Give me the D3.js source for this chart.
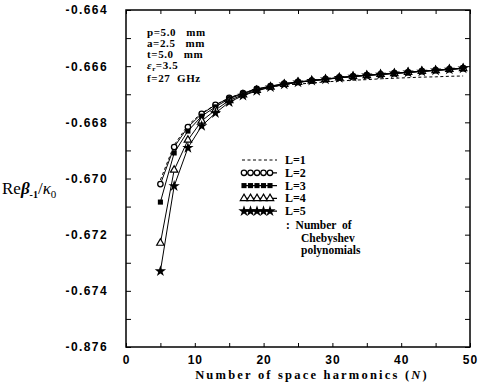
<!DOCTYPE html>
<html>
<head>
<meta charset="utf-8">
<script src="https://cdn.jsdelivr.net/npm/d3@7"></script>
<style>
  body { margin: 0; background: #fff; }
  svg { display: block; }
  text { fill: #000; }
</style>
</head>
<body>
<div id="chart"></div>
<script>
const width = 490;
const height = 388;
const margin = { top: 10, right: 20, bottom: 41, left: 126 };

// number of space harmonics
const harmonics = [5, 7, 9, 11, 13, 15, 17, 19, 21, 23, 25, 27, 29, 31, 33, 35, 37, 39, 41, 43, 45, 47, 49];

// Re beta_-1 / k0 for each L (number of Chebyshev polynomials)
const valuesL1 = [-0.67005, -0.66881, -0.66810, -0.66767, -0.66738, -0.66713, -0.66696, -0.66681, -0.66674, -0.66667, -0.66664, -0.66660,
  -0.66656, -0.66653, -0.66650, -0.66648, -0.66645, -0.66643, -0.66641, -0.66639, -0.66638, -0.66636, -0.66635];
const valuesL2 = [-0.67020, -0.66888, -0.66817, -0.66770, -0.66738, -0.66713, -0.66696, -0.66681, -0.66671, -0.66662, -0.66656, -0.66651,
  -0.66646, -0.66640, -0.66636, -0.66632, -0.66629, -0.66625, -0.66622, -0.66618, -0.66614, -0.66611, -0.66607];
const valuesL3 = [-0.67084, -0.66909, -0.66831, -0.66778, -0.66745, -0.66716, -0.66698, -0.66683, -0.66672, -0.66663, -0.66657, -0.66651,
  -0.66646, -0.66641, -0.66636, -0.66632, -0.66629, -0.66625, -0.66622, -0.66618, -0.66615, -0.66611, -0.66607];
const valuesL4 = [-0.67230, -0.66970, -0.66863, -0.66795, -0.66756, -0.66722, -0.66702, -0.66686, -0.66674, -0.66664, -0.66657, -0.66652,
  -0.66647, -0.66641, -0.66637, -0.66633, -0.66629, -0.66626, -0.66622, -0.66618, -0.66615, -0.66611, -0.66608];
const valuesL5 = [-0.67330, -0.67027, -0.66891, -0.66813, -0.66767, -0.66728, -0.66705, -0.66688, -0.66675, -0.66665, -0.66658, -0.66652,
  -0.66647, -0.66642, -0.66637, -0.66633, -0.66630, -0.66626, -0.66622, -0.66619, -0.66615, -0.66612, -0.66608];

const seriesNames = ["L=1", "L=2", "L=3", "L=4", "L=5"];

// axis ticks
const xTicks = [0, 10, 20, 30, 40, 50];
const xMinorTicks = [0, 5, 10, 15, 20, 25, 30, 35, 40, 45, 50];
const yTicks = [-0.664, -0.666, -0.668, -0.670, -0.672, -0.674, -0.676];
const yTickLabels = ["-0.664", "-0.666", "-0.668", "-0.670", "-0.672", "-0.674", "-0.876"];
const yMinorTicks = [-0.664, -0.665, -0.666, -0.667, -0.668, -0.669, -0.670, -0.671, -0.672, -0.673, -0.674, -0.675, -0.676];

const paramLines = ["p=5.0   mm", "a=2.5   mm", "t=5.0   mm", "εr=3.5", "f=27  GHz"];

const svg = d3.select("#chart")
  .append("svg")
  .attr("width", width)
  .attr("height", height);

const x = d3.scaleLinear()
  .domain([0, 50])
  .range([margin.left, width - margin.right]);

const y = d3.scaleLinear()
  .domain([-0.676, -0.664])
  .range([height - margin.bottom, margin.top]);

const tickFont = "bold 12px 'Liberation Sans', Arial, sans-serif";
const serif = "'Liberation Serif', 'Times New Roman', serif";

// inward ticks on all four sides
function tickAxis(axis, tr) {
  const g = svg.append("g").attr("transform", tr).call(axis);
  g.select(".domain").remove();
  g.selectAll("line").attr("stroke", "#000").attr("stroke-width", 1);
  return g;
}
const bottom = height - margin.bottom;
tickAxis(d3.axisBottom(x).tickValues(xMinorTicks).tickSize(-4).tickFormat(""), `translate(0,${bottom})`);
tickAxis(d3.axisTop(x).tickValues(xMinorTicks).tickSize(-4).tickFormat(""), `translate(0,${margin.top})`);
tickAxis(d3.axisLeft(y).tickValues(yMinorTicks).tickSize(-5).tickFormat(""), `translate(${margin.left},0)`);
tickAxis(d3.axisRight(y).tickValues(yMinorTicks).tickSize(-5).tickFormat(""), `translate(${width - margin.right},0)`);

// labels
const xl = svg.append("g")
  .attr("transform", `translate(0,${bottom})`)
  .call(d3.axisBottom(x).tickValues(xTicks).tickSize(0).tickPadding(8));
xl.select(".domain").remove();
xl.selectAll("text").style("font", tickFont).style("letter-spacing", "1px");

const yl = svg.append("g")
  .attr("transform", `translate(${margin.left},0)`)
  .call(d3.axisLeft(y).tickValues(yTicks).tickSize(0).tickPadding(18)
    .tickFormat((d, i) => yTickLabels[i]));
yl.select(".domain").remove();
yl.selectAll("text").style("font", tickFont).style("letter-spacing", "1.4px");

// frame
svg.append("rect")
  .attr("x", margin.left)
  .attr("y", margin.top)
  .attr("width", width - margin.left - margin.right)
  .attr("height", height - margin.top - margin.bottom)
  .attr("fill", "none")
  .attr("stroke", "#000")
  .attr("stroke-width", 1.5);

// x axis title
const xt = svg.append("text")
  .attr("x", 312)
  .attr("y", 379)
  .attr("text-anchor", "middle")
  .style("font", `bold 12.5px ${serif}`)
  .style("letter-spacing", "2.2px");
xt.append("tspan").text("Number of space harmonics (");
xt.append("tspan").style("font-style", "italic").text("N");
xt.append("tspan").text(")");

// y axis title
const yt = svg.append("text")
  .attr("x", 2)
  .attr("y", 194)
  .style("font", `17px ${serif}`);
yt.append("tspan").text("Re");
yt.append("tspan").style("font-weight", "bold").style("font-style", "italic").text("β");
yt.append("tspan").attr("dy", 4).style("font-size", "10px").style("font-weight", "bold").text("-1");
yt.append("tspan").attr("dy", -4).text("/");
yt.append("tspan").style("font-style", "italic").text("κ");
yt.append("tspan").attr("dy", 4).style("font-size", "11px").text("0");

// parameter block
const pt = svg.append("g").style("font", `bold 11px ${serif}`).style("letter-spacing", "0.6px");
const paramY = [36, 47, 58, 69, 82];
paramLines.forEach((s, i) => {
  const t = pt.append("text").attr("x", 147).attr("y", paramY[i]).attr("xml:space", "preserve");
  if (s.startsWith("εr")) {
    t.append("tspan").style("font-style", "italic").text("ε");
    t.append("tspan").attr("dy", 2).style("font-size", "7px").text("r");
    t.append("tspan").attr("dy", -2).text(s.slice(2));
  } else {
    t.text(s);
  }
});

const allValues = [valuesL1, valuesL2, valuesL3, valuesL4, valuesL5];
const series = seriesNames.map((name, i) => ({
  name,
  points: harmonics.map((n, j) => ({ n, v: allValues[i][j] }))
}));

const line = d3.line().x(d => x(d.n)).y(d => y(d.v));

// marker per series
function marker(sel, i) {
  if (i === 1) {
    sel.append("circle").attr("r", 2.7).attr("fill", "#fff").attr("stroke", "#000").attr("stroke-width", 1.3);
  } else if (i === 2) {
    sel.append("path").attr("d", d3.symbol(d3.symbolSquare, 26)).attr("fill", "#000");
  } else if (i === 3) {
    sel.append("path").attr("d", d3.symbol(d3.symbolTriangle, 24)).attr("fill", "#fff").attr("stroke", "#000").attr("stroke-width", 1.2);
  } else if (i === 4) {
    sel.append("path").attr("d", d3.symbol(d3.symbolStar, 40)).attr("fill", "#000");
  }
}

series.forEach((s, i) => {
  svg.append("path")
    .datum(s.points)
    .attr("d", line)
    .attr("fill", "none")
    .attr("stroke", "#000")
    .attr("stroke-width", 1)
    .attr("stroke-dasharray", i === 0 ? "3,2.5" : null);
  if (i > 0) {
    svg.selectAll(null)
      .data(s.points)
      .enter()
      .append("g")
      .attr("transform", d => `translate(${x(d.n)},${y(d.v)})`)
      .each(function () { marker(d3.select(this), i); });
  }
});

// legend
const lg = svg.append("g").style("font", `bold 12px ${serif}`);
seriesNames.forEach((name, i) => {
  const yy = 160 + i * 12.8;
  lg.append("line")
    .attr("x1", 242).attr("x2", 277)
    .attr("y1", yy).attr("y2", yy)
    .attr("stroke", "#000")
    .attr("stroke-width", i === 0 ? 1 : 1.2)
    .attr("stroke-dasharray", i === 0 ? "3,2.5" : null);
  if (i > 0) {
    [244, 250.5, 257, 263.5, 270].forEach(mx => {
      const g = lg.append("g").attr("transform", `translate(${mx},${yy})`);
      marker(g, i);
    });
  }
  lg.append("text").attr("x", 285).attr("y", yy + 4).text(name);
});
const noteLines = [":  Number  of", "Chebyshev", "polynomials"];
noteLines.forEach((s, i) => {
  lg.append("text")
    .attr("x", i === 0 ? 286 : 301)
    .attr("y", 229 + i * 12.5)
    .attr("xml:space", "preserve")
    .style("font-size", "11.5px")
    .text(s);
});
</script>
</body>
</html>
